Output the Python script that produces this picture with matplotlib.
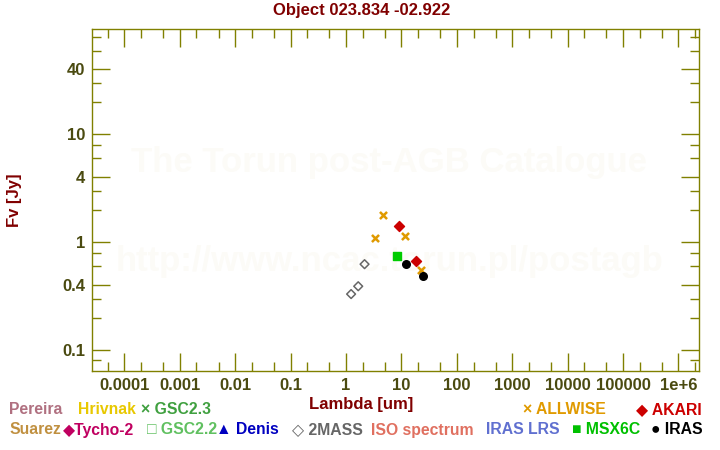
import matplotlib
matplotlib.use("Agg")
import matplotlib.pyplot as plt
from matplotlib.ticker import FixedLocator, NullFormatter

# data (wavelength in um, flux in Jy)
allwise_wl = [3.35, 4.6, 11.6, 22.1]
allwise_fl = [1.09, 1.78, 1.14, 0.55]

akari_wl = [9.0, 18.0]
akari_fl = [1.41, 0.67]

msx_wl = [8.28]
msx_fl = [0.74]

iras_wl = [12.0, 25.0]
iras_fl = [0.63, 0.49]

twomass_wl = [1.235, 1.66, 2.16]
twomass_fl = [0.33, 0.39, 0.625]

x_ticks = [1e-4, 1e-3, 1e-2, 1e-1, 1, 10, 100, 1e3, 1e4, 1e5, 1e6]
x_labels = ["0.0001", "0.001", "0.01", "0.1", "1", "10", "100", "1000",
            "10000", "100000", "1e+6"]
y_ticks = [0.1, 0.4, 1, 4, 10, 40]
y_labels = ["0.1", "0.4", "1", "4", "10", "40"]

plt.rcParams['font.family'] = ['Liberation Sans', 'DejaVu Sans']
plt.rcParams['font.weight'] = 'bold'

olive = '#808000'
tickcol = '#4a4a10'
darkred = '#800000'
fs = 12
lfs = 11.3

fig = plt.figure(figsize=(7.2, 4.5), dpi=100)
ax = fig.add_axes([92/720, 1-371/450, (699-92)/720, (371-29)/450])

ax.set_xscale('log')
ax.set_yscale('log')
ax.set_xlim(2.6e-5, 2.35e6)
ax.set_ylim(0.0638, 95)

# watermark
ax.text(0.49, 0.61, "The Torun post-AGB Catalogue", transform=ax.transAxes,
        ha='center', va='center', fontsize=25, color='#fcfbf7', zorder=0)
ax.text(0.49, 0.32, "http://www.ncac.torun.pl/postagb", transform=ax.transAxes,
        ha='center', va='center', fontsize=25, color='#fcfbf7', zorder=0)

ax.scatter(twomass_wl, twomass_fl, marker='D', s=20, facecolors='none',
           edgecolors='#666666', linewidths=1.1, zorder=3)
ax.scatter(allwise_wl, allwise_fl, marker='x', s=26, color='#e09a00',
           linewidths=1.8, zorder=3)
ax.scatter(akari_wl, akari_fl, marker='D', s=26, color='#cc0000', zorder=3)
ax.scatter(msx_wl, msx_fl, marker='s', s=30, color='#00cc00', zorder=3)
ax.scatter(iras_wl, iras_fl, marker='o', s=30, color='black', zorder=3)

# ticks
ax.xaxis.set_major_locator(FixedLocator(x_ticks))
ax.set_xticklabels(x_labels)
x_minor = []
for d in range(-5, 7):
    for m in (2, 5):
        x_minor.append(m * 10.0 ** d)
ax.xaxis.set_minor_locator(FixedLocator(x_minor))
ax.xaxis.set_minor_formatter(NullFormatter())

ax.yaxis.set_major_locator(FixedLocator(y_ticks))
ax.set_yticklabels(y_labels)
y_minor = []
for d in range(-2, 2):
    for m in (2, 3, 6, 8):
        y_minor.append(m * 10.0 ** d)
ax.yaxis.set_minor_locator(FixedLocator(y_minor))
ax.yaxis.set_minor_formatter(NullFormatter())

ax.tick_params(which='both', direction='in', top=True, right=True,
               color=olive, width=1.0, labelcolor=tickcol, labelsize=fs)
ax.tick_params(which='major', length=13, pad=5)
ax.tick_params(which='minor', length=6.5)
for s in ax.spines.values():
    s.set_color(olive)
    s.set_linewidth(1.0)
for lab in ax.get_xticklabels() + ax.get_yticklabels():
    lab.set_fontweight('bold')

fig.text(362/720, 1-11/450, "Object 023.834 -02.922", ha='center', va='center',
         fontsize=fs, color=darkred)
fig.text(15/720, 1-200/450, "Fv [Jy]", rotation=90, ha='center', va='center',
         fontsize=fs, color=darkred)
fig.text(361/720, 1-404/450, "Lambda [um]", ha='center', va='center',
         fontsize=fs, color=darkred)

# legend rows of coloured text
row1 = [(9, "Pereira", '#b07080'), (78, "Hrivnak", '#e8c800'),
        (141, "\u00d7 GSC2.3", '#40a040'), (523, "\u00d7 ALLWISE", '#e09a00'),
        (636, "\u25c6 AKARI", '#cc0000')]
row2 = [(9, "Suarez", '#c09040'), (63, "\u25c6Tycho-2", '#c00060'),
        (147, "\u25a1 GSC2.2", '#60c060'), (216, "\u25b2 Denis", '#0000c0'),
        (292, "\u25c7 2MASS", '#666666'), (371, "ISO spectrum", '#e07060'),
        (486, "IRAS LRS", '#6070d0'), (572, "\u25a0 MSX6C", '#00c000'),
        (651, "\u25cf IRAS", 'black')]
for x, t, c in row1:
    fig.text(x/720, 1-410/450, t, ha='left', va='center', fontsize=lfs, color=c)
for x, t, c in row2:
    fig.text(x/720, 1-430/450, t, ha='left', va='center', fontsize=lfs, color=c)

fig.savefig("out.png", dpi=100)
